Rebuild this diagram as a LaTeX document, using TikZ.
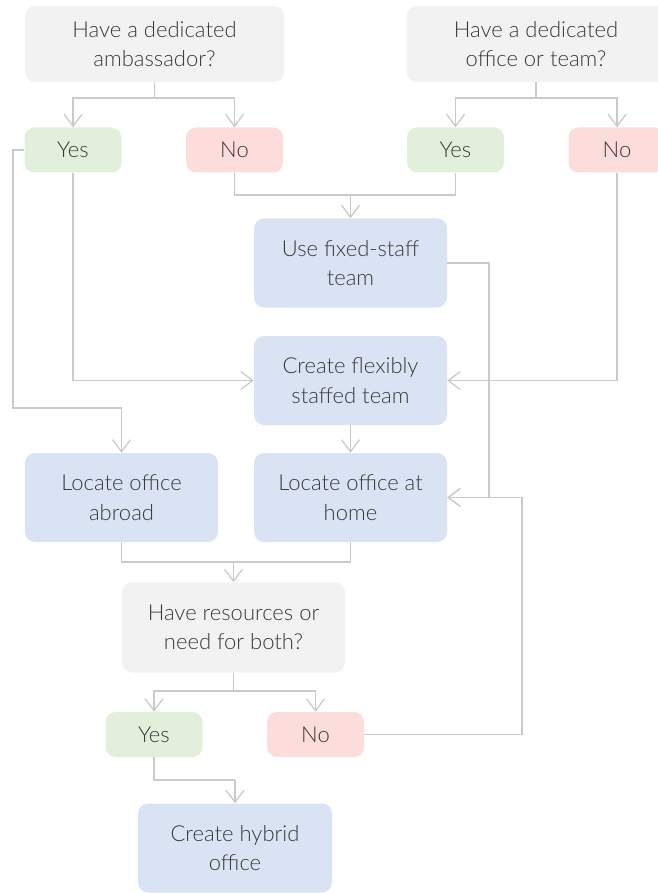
\documentclass[tikz,border=0pt]{standalone}
\usepackage{fontspec}
\setmainfont{Lato Light}
\usetikzlibrary{arrows.meta}
\definecolor{qgray}{HTML}{F2F2F2}
\definecolor{ygreen}{HTML}{E2EFDA}
\definecolor{nred}{HTML}{FDDCDC}
\definecolor{ablue}{HTML}{DAE3F3}
\definecolor{linec}{HTML}{CACACA}
\definecolor{txt}{HTML}{3A3A3A}
\tikzset{
  box/.style={rounded corners=10pt, inner sep=0pt, align=center, text=txt,
    font=\fontsize{22}{29.5}\selectfont},
  qbox/.style={box, fill=qgray},
  ybox/.style={box, fill=ygreen, minimum width=97pt, minimum height=45pt},
  nbox/.style={box, fill=nred, minimum width=97pt, minimum height=45pt},
  abox/.style={box, fill=ablue, minimum width=193pt, minimum height=89pt},
  ln/.style={draw=linec, line width=1.3pt},
  arr/.style={ln, -{Straight Barb[length=12pt,width=18pt,line width=1.3pt]}}
}
\begin{document}
\begin{tikzpicture}[x=1pt,y=-1pt]
\useasboundingbox (0,0) rectangle (657,893);
% question boxes
\node[qbox, minimum width=259pt, minimum height=76pt] (q1) at (154.5,44) {Have a dedicated\\ambassador?};
\node[qbox, minimum width=259pt, minimum height=76pt] (q2) at (536,44) {Have a dedicated\\office or team?};
% yes/no row 1
\node[ybox] (yes1) at (73,150) {Yes};
\node[nbox] (no1) at (234.5,150) {No};
\node[ybox] (yes2) at (455.5,150) {Yes};
\node[nbox] (no2) at (617,150) {No};
% actions
\node[abox] (fixed) at (350.5,263) {Use fixed-staff\\team};
\node[abox] (flex) at (350.5,380.5) {Create flexibly\\staffed team};
\node[abox] (abroad) at (121.5,497.5) {Locate office\\abroad};
\node[abox] (home) at (350.5,497.5) {Locate office at\\home};
\node[qbox, minimum width=223pt, minimum height=90pt] (q3) at (233.5,627.5) {Have resources or\\need for both?};
\node[ybox] (yes3) at (154,734.5) {Yes};
\node[nbox] (no3) at (315.5,734.5) {No};
\node[abox, minimum width=194pt] (hybrid) at (235,848) {Create hybrid\\office};
% junction coordinates
\coordinate (j1) at (154.5,98);
\coordinate (j2) at (536,98);
\coordinate (j3) at (350.5,195);
\coordinate (c1) at (13,408);
\coordinate (c2) at (489,497.5);
\coordinate (c3) at (522,497.5);
\coordinate (j4) at (233.5,562);
\coordinate (j5) at (233.5,691);
\coordinate (j6) at (235,780);
% connectors
\draw[ln] (q1.south) -- (j1);
\draw[arr] (j1) -| (yes1.north);
\draw[arr] (j1) -| (no1.north);
\draw[ln] (q2.south) -- (j2);
\draw[arr] (j2) -| (yes2.north);
\draw[arr] (j2) -| (no2.north);
\draw[ln] (no1.south) |- (j3);
\draw[ln] (yes2.south) |- (j3);
\draw[arr] (j3) -- (fixed.north);
\draw[arr] (yes1.south) |- (flex.west);
\draw[arr] (no2.south) |- (flex.east);
\draw[arr] (yes1.west) -| (c1) -| (abroad.north);
\draw[arr] (fixed.east) -| (c2) -- (home.east);
\draw[arr] (flex.south) -- (home.north);
\draw[ln] (abroad.south) |- (j4);
\draw[ln] (home.south) |- (j4);
\draw[arr] (j4) -- (q3.north);
\draw[ln] (q3.south) -- (j5);
\draw[arr] (j5) -| (yes3.north);
\draw[arr] (j5) -| (no3.north);
\draw[arr] (no3.east) -| (c3) -- (home.east);
\draw[ln] (yes3.south) |- (j6);
\draw[arr] (j6) -- (hybrid.north);
\end{tikzpicture}
\end{document}
